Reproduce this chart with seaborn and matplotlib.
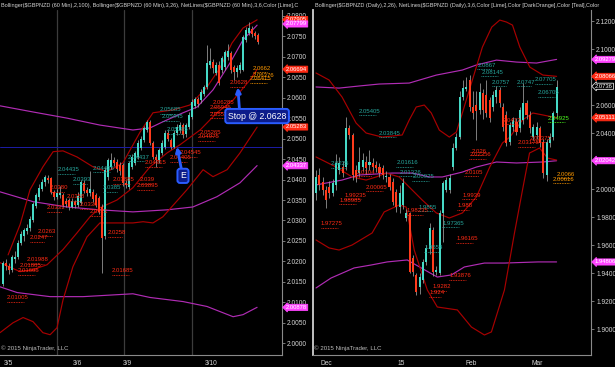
import numpy as np
import matplotlib.pyplot as plt
import matplotlib.transforms as mtransforms
import seaborn as sns

# ---------------- left panel: GBPNZD 60 min ----------------
l_open = [2.0145, 2.0195, 2.0188, 2.0180, 2.0205, 2.0212, 2.0246, 2.0262, 2.0274, 2.0282,
          2.0302, 2.0336, 2.0358, 2.0378, 2.0393, 2.0404, 2.0403, 2.0370, 2.0358, 2.0362,
          2.0363, 2.0348, 2.0350, 2.0334, 2.0345, 2.0337, 2.0343, 2.0392, 2.0375, 2.0366,
          2.0370, 2.0363, 2.0355, 2.0334, 2.0261, 2.0407, 2.0430, 2.0448, 2.0444, 2.0436,
          2.0436, 2.0392, 2.0382, 2.0430, 2.0441, 2.0456, 2.0478, 2.0497, 2.0521, 2.0540,
          2.0490, 2.0456, 2.0448, 2.0465, 2.0480, 2.0514, 2.0497, 2.0480, 2.0514, 2.0520,
          2.0534, 2.0512, 2.0529, 2.0553, 2.0580, 2.0596, 2.0594, 2.0610, 2.0626, 2.0680,
          2.0688, 2.0660, 2.0680, 2.0668, 2.0675, 2.0700, 2.0709, 2.0675, 2.0662, 2.0668,
          2.0668, 2.0741, 2.0758, 2.0768, 2.0758, 2.0753]
l_close = [2.0195, 2.0188, 2.0180, 2.0210, 2.0212, 2.0246, 2.0268, 2.0276, 2.0282, 2.0304,
           2.0340, 2.0362, 2.0380, 2.0395, 2.0406, 2.0398, 2.0370, 2.0358, 2.0368, 2.0366,
           2.0338, 2.0340, 2.0334, 2.0348, 2.0337, 2.0360, 2.0394, 2.0372, 2.0366, 2.0376,
           2.0352, 2.0338, 2.0321, 2.0258, 2.0424, 2.0448, 2.0448, 2.0440, 2.0425, 2.0420,
           2.0392, 2.0386, 2.0441, 2.0455, 2.0465, 2.0490, 2.0500, 2.0526, 2.0540, 2.0490,
           2.0456, 2.0448, 2.0472, 2.0490, 2.0514, 2.0500, 2.0480, 2.0514, 2.0529, 2.0532,
           2.0508, 2.0532, 2.0558, 2.0590, 2.0596, 2.0585, 2.0614, 2.0626, 2.0684, 2.0690,
           2.0672, 2.0680, 2.0636, 2.0697, 2.0711, 2.0715, 2.0668, 2.0662, 2.0672, 2.0680,
           2.0748, 2.0765, 2.0770, 2.0755, 2.0750, 2.0736]
l_high = [2.0200, 2.0205, 2.0196, 2.0216, 2.0225, 2.0252, 2.0275, 2.0282, 2.0292, 2.0310,
          2.0346, 2.0368, 2.0388, 2.0402, 2.0412, 2.0410, 2.0406, 2.0375, 2.0378, 2.0385,
          2.0366, 2.0355, 2.0356, 2.0356, 2.0350, 2.0370, 2.0400, 2.0398, 2.0382, 2.0420,
          2.0376, 2.0368, 2.0360, 2.0340, 2.0430, 2.0452, 2.0466, 2.0455, 2.0450, 2.0442,
          2.0440, 2.0398, 2.0446, 2.0462, 2.0470, 2.0496, 2.0506, 2.0530, 2.0546, 2.0545,
          2.0495, 2.0462, 2.0478, 2.0496, 2.0520, 2.0520, 2.0502, 2.0520, 2.0535, 2.0540,
          2.0538, 2.0538, 2.0564, 2.0596, 2.0602, 2.0602, 2.0620, 2.0632, 2.0728, 2.0720,
          2.0694, 2.0686, 2.0690, 2.0702, 2.0716, 2.0730, 2.0714, 2.0680, 2.0680, 2.0688,
          2.0752, 2.0772, 2.0785, 2.0775, 2.0762, 2.0758]
l_low = [2.0140, 2.0178, 2.0170, 2.0175, 2.0195, 2.0205, 2.0240, 2.0250, 2.0266, 2.0275,
         2.0296, 2.0330, 2.0350, 2.0372, 2.0385, 2.0392, 2.0365, 2.0350, 2.0352, 2.0355,
         2.0332, 2.0334, 2.0326, 2.0330, 2.0330, 2.0332, 2.0338, 2.0368, 2.0360, 2.0360,
         2.0345, 2.0332, 2.0315, 2.0172, 2.0255, 2.0400, 2.0425, 2.0432, 2.0418, 2.0412,
         2.0385, 2.0380, 2.0378, 2.0425, 2.0436, 2.0450, 2.0472, 2.0492, 2.0515, 2.0485,
         2.0450, 2.0430, 2.0440, 2.0460, 2.0475, 2.0494, 2.0474, 2.0476, 2.0508, 2.0514,
         2.0502, 2.0505, 2.0524, 2.0548, 2.0574, 2.0578, 2.0588, 2.0604, 2.0620, 2.0672,
         2.0660, 2.0655, 2.0630, 2.0660, 2.0668, 2.0692, 2.0660, 2.0643, 2.0650, 2.0660,
         2.0664, 2.0736, 2.0752, 2.0748, 2.0742, 2.0730]
l_bar = list(range(len(l_open)))

l_tick_pos = [1.7, 24.7, 41.3, 69.3]
l_tick_lbl = ["3/5", "3/6", "3/9", "3/10"]
l_session = [18, 40.3, 63]

# Bollinger(2,100) - magenta, Bollinger(3,26) - dark red
lm_up_x = [-1, 10, 21.3, 32.3, 43.3, 49, 53.3, 60, 64.7, 70, 75.7, 80, 84.7]
lm_up_y = [2.0580, 2.0565, 2.0550, 2.0533, 2.0521, 2.0526, 2.0541, 2.0563, 2.0577, 2.0619, 2.0685, 2.0741, 2.0777]
lm_mid_x = [-1, 10, 21.3, 32.3, 43.3, 54.7, 63.3, 71.3, 79, 84.7]
lm_mid_y = [2.0370, 2.0346, 2.0333, 2.0326, 2.0321, 2.0326, 2.0333, 2.0358, 2.0392, 2.0434]
lm_low_x = [-1, 4.7, 15.7, 26.7, 43.3, 49, 60, 68, 76.7, 80, 84.7]
lm_low_y = [2.0138, 2.0124, 2.0114, 2.0114, 2.0121, 2.0112, 2.0102, 2.0090, 2.0065, 2.0070, 2.0088]
lr_up_x = [1.7, 5.7, 9, 13.3, 16.7, 20, 24.7, 30, 34.7, 40, 45.7, 50, 56.7, 62.3, 68, 72.3, 76.3, 80, 84.7]
lr_up_y = [2.0216, 2.0290, 2.0375, 2.0431, 2.0468, 2.0470, 2.0455, 2.0431, 2.0419, 2.0441,
           2.0516, 2.0563, 2.0570, 2.0582, 2.0626, 2.0672, 2.0733, 2.0770, 2.0790]
lr_mid_x = [-1, 5.7, 10, 14.7, 20, 24.7, 29, 32.3, 38, 43.3, 49, 54.7, 59, 65.7, 71.3, 76.7, 82.3, 84.7]
lr_mid_y = [2.0197, 2.0175, 2.0180, 2.0192, 2.0229, 2.0270, 2.0309, 2.0331, 2.0350, 2.0380,
            2.0431, 2.0465, 2.0485, 2.0521, 2.0563, 2.0594, 2.0643, 2.0669]
lr_low_x = [-1, 3.3, 6.7, 10, 13.3, 15.7, 18, 20, 23.3, 28, 32.3, 35.7, 43.3, 46.7, 50, 53.3,
            61.3, 66.7, 70, 74.7, 79, 84.7]
lr_low_y = [2.0026, 2.0050, 2.0063, 2.0053, 2.0026, 2.0021, 2.0038, 2.0106, 2.0187, 2.0260, 2.0294,
            2.0294, 2.0294, 2.0297, 2.0294, 2.0309, 2.0375, 2.0424, 2.0407, 2.0424, 2.0465, 2.0528]
l_hline = 2.0480

# NetLines price labels (bar, price, text, colour key)
l_lbl_x = [83.3, 83.3, 82.3, 75.7, 70, 69, 69, 65.7, 65, 52.3, 53, 54.7, 59, 55.7, 47.3, 41.7,
           30, 18.3, 45.7, 44.7, 36.7, 33.3, 23.3, 15.7, 21.3, 14.7, 11.7, 9, 35, 8, 5.7, 5,
           36.3, 1.3, 25.7, 29]
l_lbl_y = [2.0672, 2.0655, 2.0646, 2.0636, 2.0587, 2.0575, 2.0560, 2.0516, 2.0504, 2.0570, 2.0553,
           2.0521, 2.0465, 2.0453, 2.0441, 2.0455, 2.0428, 2.0424, 2.0399, 2.0385, 2.0399, 2.0380,
           2.0399, 2.0380, 2.0358, 2.0331, 2.0272, 2.0258, 2.0270, 2.0204, 2.0189, 2.0177, 2.0177,
           2.0111, 2.0338, 2.0321]
l_lbl_txt = ["2.0662", "2.06376", "2.06415", "2.0628", "2.06285", "2.05945", "2.05515", "2.05265",
             "2.04975", "2.05685", "2.05445", "2.05185", "2.04545", "2.04405", "2.04315", "2.04437",
             "2.04435", "2.04435", "2.039", "2.03895", "2.03885", "2.0385", "2.0393", "2.0380",
             "2.0358", "2.0331", "2.0263", "2.0247", "2.0258", "2.01988", "2.01885", "2.01695",
             "2.01685", "2.01005", "2.0336", "2.0321"]
l_lbl_col = ["o", "o", "o", "r", "r", "r", "r", "r", "r", "t", "t", "t", "r", "r", "r", "t",
             "t", "t", "r", "r", "r", "t", "t", "r", "r", "r", "r", "r", "r", "r", "r", "r",
             "r", "r", "r", "r"]
l_axis_val = ["2.07905", "2.07799", "2.06694", "2.05283", "2.04337", "2.00878"]
l_axis_col = ["r", "m", "r", "r", "m", "m"]

# ---------------- right panel: GBPNZD daily ----------------
r_open = [1.9971, 2.0102, 2.0054, 1.9995, 2.0019, 1.9971, 2.0031, 2.0138, 2.0161, 2.0161,
          2.0435, 2.0388, 2.0138, 2.0114, 2.0161, 2.0197, 2.0173, 2.0185, 2.0173, 2.0161,
          2.0150, 2.0090, 2.0090, 2.0054, 1.9983, 1.9876, 1.9888, 1.9793, 1.9830, 1.9510,
          1.9387, 1.9300, 1.9350, 1.9480, 1.9570, 1.9710, 1.9410, 1.9400, 1.9828, 1.9995,
          1.9995, 2.0161, 2.0293, 2.0376, 2.0661, 2.0720, 2.0781, 2.0590, 2.0600, 2.0566,
          2.0685, 2.0673, 2.0638, 2.0590, 2.0661, 2.0709, 2.0590, 2.0531, 2.0340, 2.0447,
          2.0483, 2.0435, 2.0495, 2.0614, 2.0531, 2.0376, 2.0388, 2.0435, 2.0340, 2.0102,
          2.0328, 2.0376, 2.0543]
r_close = [2.0090, 2.0031, 1.9995, 1.9923, 1.9971, 2.0043, 2.0185, 2.0185, 2.0114, 2.0435,
           2.0388, 2.0102, 2.0090, 2.0197, 2.0209, 2.0150, 2.0197, 2.0161, 2.0150, 2.0114,
           2.0102, 2.0095, 2.0019, 1.9911, 1.9876, 1.9971, 2.0043, 1.9828, 1.9410, 1.9410,
           1.9266, 1.9376, 1.9480, 1.9578, 1.9721, 1.9410, 1.9425, 1.9830, 2.0043, 2.0066,
           2.0078, 2.0293, 2.0376, 2.0661, 2.0721, 2.0733, 2.0590, 2.0543, 2.0560, 2.0697,
           2.0566, 2.0543, 2.0507, 2.0673, 2.0709, 2.0614, 2.0447, 2.0328, 2.0459, 2.0495,
           2.0411, 2.0566, 2.0614, 2.0531, 2.0435, 2.0447, 2.0447, 2.0328, 2.0114, 2.0340,
           2.0376, 2.0543, 2.0733]
r_high = [2.0138, 2.0150, 2.0090, 2.0020, 2.0060, 2.0070, 2.0255, 2.0230, 2.0200, 2.0520,
          2.0460, 2.0400, 2.0170, 2.0304, 2.0260, 2.0240, 2.0280, 2.0220, 2.0200, 2.0190,
          2.0170, 2.0130, 2.0110, 2.0080, 2.0000, 2.0030, 2.0080, 1.9860, 1.9840, 1.9530,
          1.9400, 1.9400, 1.9500, 1.9600, 1.9760, 1.9730, 1.9450, 1.9850, 2.0060, 2.0090,
          2.0110, 2.0330, 2.0400, 2.0700, 2.0780, 2.0800, 2.0820, 2.0700, 2.0700, 2.0760,
          2.0720, 2.0781, 2.0660, 2.0700, 2.0740, 2.0730, 2.0620, 2.0560, 2.0480, 2.0520,
          2.0510, 2.0590, 2.0760, 2.0640, 2.0560, 2.0470, 2.0480, 2.0450, 2.0360, 2.0360,
          2.0400, 2.0560, 2.0780]
r_low = [1.9923, 1.9995, 1.9960, 1.9865, 1.9940, 1.9950, 1.9995, 2.0110, 2.0090, 2.0138,
         2.0360, 2.0066, 2.0050, 2.0090, 2.0130, 2.0110, 2.0140, 2.0130, 2.0120, 2.0090,
         2.0070, 2.0050, 1.9995, 1.9890, 1.9840, 1.9830, 1.9860, 1.9770, 1.9400, 1.9380,
         1.9245, 1.9250, 1.9330, 1.9460, 1.9540, 1.9380, 1.9390, 1.9390, 1.9620, 1.9980,
         1.9970, 2.0140, 2.0280, 2.0360, 2.0640, 2.0700, 2.0560, 2.0500, 2.0350, 2.0540,
         2.0500, 2.0520, 2.0480, 2.0560, 2.0620, 2.0590, 2.0420, 2.0310, 2.0320, 2.0420,
         2.0390, 2.0410, 2.0470, 2.0500, 2.0400, 2.0350, 2.0360, 2.0300, 2.0080, 2.0060,
         2.0300, 2.0350, 2.0520]
r_day = list(range(-3, -3 + len(r_open)))   # trading days, 0 = 1 Dec 2014

r_tick_pos = [0, 22.5, 43.5, 63.1]
r_tick_lbl = ["Dec", "15", "Feb", "Mar"]

rm_up_x = [-3, 3.9, 9.9, 15.9, 24.9, 33, 40.8, 45, 51, 57, 63, 69]
rm_up_y = [2.0731, 2.0723, 2.0738, 2.0752, 2.0759, 2.0816, 2.0852, 2.0888, 2.0923, 2.0909, 2.0902, 2.0928]
rm_mid_x = [-3, 4.8, 9.9, 19.8, 25.8, 30.9, 34.8, 40.8, 45, 51, 57, 64.8, 69]
rm_mid_y = [2.0031, 2.0066, 2.0102, 2.0116, 2.0116, 2.0088, 2.0088, 2.0123, 2.0159, 2.0195, 2.0188, 2.0195, 2.0204]
rm_low_x = [-3, 1.5, 8.4, 13.5, 18.3, 24.3, 28.5, 33.3, 37.5, 41.4, 47.4, 53.5, 63.4, 69]
rm_low_y = [1.9295, 1.9366, 1.9438, 1.9459, 1.9481, 1.9495, 1.9438, 1.9373, 1.9388, 1.9445,
            1.9473, 1.9473, 1.9481, 1.9481]
rr_up_x = [-3, 0.9, 4.8, 9, 12, 16.8, 22.8, 24.9, 27, 29.4, 31.5, 33.9, 36.9, 39, 40.8, 43.8,
           46.8, 49.6, 52, 54, 55.8, 58, 61, 64.9, 69]
rr_up_y = [2.0831, 2.0781, 2.0659, 2.0473, 2.0402, 2.0373, 2.0388, 2.0495, 2.0588, 2.0602, 2.0545,
           2.0423, 2.0373, 2.0409, 2.0545, 2.0781, 2.1016, 2.1159, 2.1209, 2.1195, 2.1173, 2.1016,
           2.0873, 2.0816, 2.0807]
rr_mid_x = [-3, 3, 7.8, 12, 15, 18, 21.9, 24.9, 28.8, 33, 36.9, 40.8, 45, 49, 52.8, 55, 58.8, 61.9, 64.9, 69]
rr_mid_y = [2.0231, 2.0159, 2.0088, 2.0066, 2.0088, 2.0116, 2.0088, 2.0016, 1.9923, 1.9831, 1.9795,
            1.9831, 1.9945, 2.0159, 2.0331, 2.0373, 2.0495, 2.0545, 2.0531, 2.0511]
rr_low_x = [-3, 0.9, 3.9, 7.8, 13.8, 17.4, 21.9, 24, 26.4, 30.3, 33.3, 39.3, 43.5, 47.4, 49.5,
            53.4, 56.4, 58.8, 60.9, 63.9, 66.3, 69]
rr_low_y = [1.9638, 1.9581, 1.9566, 1.9602, 1.9688, 1.9838, 1.9888, 1.9873, 1.9566, 1.9281, 1.9159,
            1.9138, 1.9016, 1.8959, 1.8981, 1.9281, 1.9688, 1.9995, 2.0259, 2.0295, 2.0223, 2.0209]

r_lbl_x = [45.3, 46.5, 49.6, 57.1, 62.5, 63.4, 66.4, 9.9, 15.9, 52.9, 57.4, 61, 43.5, 42.9, 1.5,
           21, 21.9, 25.8, 9.3, 41.4, 12, 69, 67.9, 5.4, 3.9, 40.8, 27.6, 24, 39.3, -1.5, 34.8,
           39, 29.4, 36.9, 31.8, 30.9]
r_lbl_y = [2.0888, 2.0838, 2.0766, 2.0766, 2.0781, 2.0688, 2.0509, 2.0559, 2.0402, 2.0495, 2.0331,
           2.0366, 2.0273, 2.0245, 2.0181, 2.0188, 2.0123, 2.0088, 2.0123, 2.0123, 2.0016, 2.0109,
           2.0073, 1.9959, 1.9923, 1.9959, 1.9873, 1.9845, 1.9881, 1.9752, 1.9759, 1.9645, 1.9581,
           1.9381, 1.9302, 1.9259]
r_lbl_txt = ["2.0867", "2.08145", "2.0757", "2.0747", "2.07705", "2.06705", "2.04925", "2.05405",
             "2.03845", "2.0412", "2.03178", "2.03375", "2.026", "2.02356", "2.0225", "2.01616",
             "2.01326", "2.00925", "2.0104", "2.0105", "2.00065", "2.0066", "2.00616", "1.99235",
             "1.98985", "1.9939", "1.9855", "1.98235", "1.988", "1.97275", "1.97365", "1.96165",
             "1.9554", "1.93876", "1.9282", "1.924"]
r_lbl_col = ["t", "t", "t", "t", "t", "t", "g", "t", "t", "r", "r", "r", "r", "r", "t", "t",
             "t", "t", "r", "r", "r", "o", "o", "r", "r", "r", "t", "r", "r", "r", "t", "r",
             "t", "r", "r", "r"]
r_axis_val = ["2.09279", "2.08066", "2.0736", "2.05111", "2.02042", "1.94806"]
r_axis_col = ["m", "r", "k", "r", "m", "m"]

# ---------------- styling ----------------
BG = "black"
UP = "#46d9c6"
DOWN = "#ff3b1c"
WICK = "#a0a0a0"
BAND_RED = "#a80000"
BAND_MAG = "#b02cb4"
TXT = "#d4d4d4"
LBL = {"r": "#ff2a14", "t": "#27a69c", "o": "#ff9900", "g": "#4dff1e"}
BOX = {"r": ("#ff2a14", "#ff2a14"), "m": ("#ff44ff", "#ff44ff"), "k": ("black", "#e0e0e0")}

sns.set_theme(style="dark", rc={"axes.facecolor": BG, "figure.facecolor": BG,
                                "axes.edgecolor": "#8a8a8a", "axes.grid": False})
plt.rcParams["font.family"] = ["Liberation Sans", "DejaVu Sans"]

fig = plt.figure(figsize=(6.15, 3.67), dpi=100)
axL = fig.add_axes([0 / 615, 12 / 367, 282 / 615, 345 / 367])
axR = fig.add_axes([313 / 615, 12 / 367, 278 / 615, 345 / 367])


def draw_candles(ax, x, o, c, h, l, width, min_body):
    o = np.asarray(o)
    c = np.asarray(c)
    up = c >= o
    ax.vlines(x, l, h, color=WICK, lw=0.55, zorder=3)
    body = np.maximum(np.abs(c - o), min_body)
    ax.bar(x, body, bottom=np.minimum(o, c), width=width,
           color=np.where(up, UP, DOWN), edgecolor="none", zorder=4)


def draw_band(ax, xs, ys, color):
    sns.lineplot(x=xs, y=ys, ax=ax, color=color, linewidth=0.85, estimator=None,
                 sort=False, legend=False, zorder=2)


def style_axes(ax, ylim, yticks, fmt, xlim, xpos, xlbl):
    ax.set_xlim(*xlim)
    ax.set_ylim(*ylim)
    ax.yaxis.tick_right()
    ax.set_yticks(yticks)
    ax.set_yticklabels([fmt % v for v in yticks])
    ax.set_xticks(xpos)
    ax.set_xticklabels(xlbl)
    ax.tick_params(axis="both", colors="#8a8a8a", labelcolor=TXT, labelsize=4.8,
                   length=2.5, width=0.6, pad=1.2, direction="out")
    ax.tick_params(axis="y", right=True, left=False)
    for s in ["top", "left"]:
        ax.spines[s].set_visible(False)
    for s in ["right", "bottom"]:
        ax.spines[s].set_color("#8a8a8a")
        ax.spines[s].set_linewidth(0.8)
    ax.set_xlabel("")
    ax.set_ylabel("")
    ax.text(0.005, 0.012, "\u00a9 2015 NinjaTrader, LLC", transform=ax.transAxes,
            fontsize=4.4, color="#bdbdbd", ha="left", va="bottom")


def net_labels(ax, xs, ys, txts, cols, char_w):
    y0, y1 = ax.get_ylim()
    px = (y1 - y0) / 345.0
    for x, y, t, k in zip(xs, ys, txts, cols):
        ax.text(x, y, t, fontsize=4.3, color=LBL[k], ha="left", va="center", zorder=6)
        ax.hlines(y - 4 * px, x, x + len(t) * char_w, colors=LBL[k], lw=0.6,
                  linestyles=(0, (1, 1)), zorder=6)


def axis_boxes(ax, vals, cols):
    trans = mtransforms.blended_transform_factory(ax.transAxes, ax.transData)
    trans = mtransforms.offset_copy(trans, fig=fig, x=4, y=0, units="dots")
    for v, k in zip(vals, cols):
        fc, ec = BOX[k]
        ax.text(1.0, float(v), v, transform=trans, fontsize=4.2, color="white",
                ha="left", va="center", clip_on=False, zorder=10,
                bbox=dict(boxstyle="larrow,pad=0.1", fc=fc, ec=ec, lw=0.6))


# ---- left ----
style_axes(axL, (1.99715, 2.0814), np.arange(2.0, 2.08001, 0.005), "%.4f",
           (-1, 93), l_tick_pos, l_tick_lbl)
axL.set_xticks([47], minor=True)
axL.tick_params(axis="x", which="minor", colors="#8a8a8a", length=2.5, width=0.6)
for g in l_session:
    axL.axvline(g, color="#3c3c3c", lw=0.9, zorder=1)
axL.axhline(l_hline, color="#1c1ca8", lw=0.7, zorder=1)
draw_band(axL, lm_up_x, lm_up_y, BAND_MAG)
draw_band(axL, lm_mid_x, lm_mid_y, BAND_MAG)
draw_band(axL, lm_low_x, lm_low_y, BAND_MAG)
draw_band(axL, lr_up_x, lr_up_y, BAND_RED)
draw_band(axL, lr_mid_x, lr_mid_y, BAND_RED)
draw_band(axL, lr_low_x, lr_low_y, BAND_RED)
draw_candles(axL, l_bar, l_open, l_close, l_high, l_low, 0.66, 0.00012)
net_labels(axL, l_lbl_x, l_lbl_y, l_lbl_txt, l_lbl_col, 0.8)
axis_boxes(axL, l_axis_val, l_axis_col)

arrow = dict(arrowstyle="-|>", color="#2a5cff", lw=2.0, mutation_scale=7,
             shrinkA=0, shrinkB=0)
axL.annotate("Stop @ 2.0628", xy=(78.3, 2.0625), xytext=(84.7, 2.0555),
             ha="center", va="center", fontsize=6.3, color="white", zorder=12,
             annotation_clip=False,
             bbox=dict(boxstyle="round,pad=0.3", fc="#0c1c8a", ec="#2a5cff", lw=1.4),
             arrowprops=dict(arrow, relpos=(0.2, 1.0)))
axL.annotate("E", xy=(58, 2.0480), xytext=(60, 2.0409),
             ha="center", va="center", fontsize=6.3, color="white", zorder=12,
             bbox=dict(boxstyle="round,pad=0.3", fc="#0c1c8a", ec="#2a5cff", lw=1.4),
             arrowprops=dict(arrow, relpos=(0.3, 1.0)))

# ---- right ----
style_axes(axR, (1.8816, 2.1281), np.arange(1.90, 2.12001, 0.02), "%.4f",
           (-3.9, 79.3), r_tick_pos, r_tick_lbl)
axR.spines["left"].set_visible(True)
axR.spines["left"].set_color("#d0d0d0")
axR.spines["left"].set_linewidth(1.3)
draw_band(axR, rm_up_x, rm_up_y, BAND_MAG)
draw_band(axR, rm_mid_x, rm_mid_y, BAND_MAG)
draw_band(axR, rm_low_x, rm_low_y, BAND_MAG)
draw_band(axR, rr_up_x, rr_up_y, BAND_RED)
draw_band(axR, rr_mid_x, rr_mid_y, BAND_RED)
draw_band(axR, rr_low_x, rr_low_y, BAND_RED)
draw_candles(axR, r_day, r_open, r_close, r_high, r_low, 0.62, 0.0004)
net_labels(axR, r_lbl_x, r_lbl_y, r_lbl_txt, r_lbl_col, 0.72)
axis_boxes(axR, r_axis_val, r_axis_col)

fig.text(1 / 615, 1 - 5 / 367,
         r"Bollinger(\$GBPNZD (60 Min),2,100), Bollinger(\$GBPNZD (60 Min),3,26), "
         r"NetLines(\$GBPNZD (60 Min),3,6,Color [Lime],C",
         fontsize=4.0, color=TXT, ha="left", va="center")
fig.text(315 / 615, 1 - 5 / 367,
         r"Bollinger(\$GBPNZD (Daily),2,26), NetLines(\$GBPNZD (Daily),3,6,Color [Lime],"
         r"Color [DarkOrange],Color [Teal],Color",
         fontsize=4.0, color=TXT, ha="left", va="center")

fig.savefig("out.png", dpi=100, facecolor=BG)
